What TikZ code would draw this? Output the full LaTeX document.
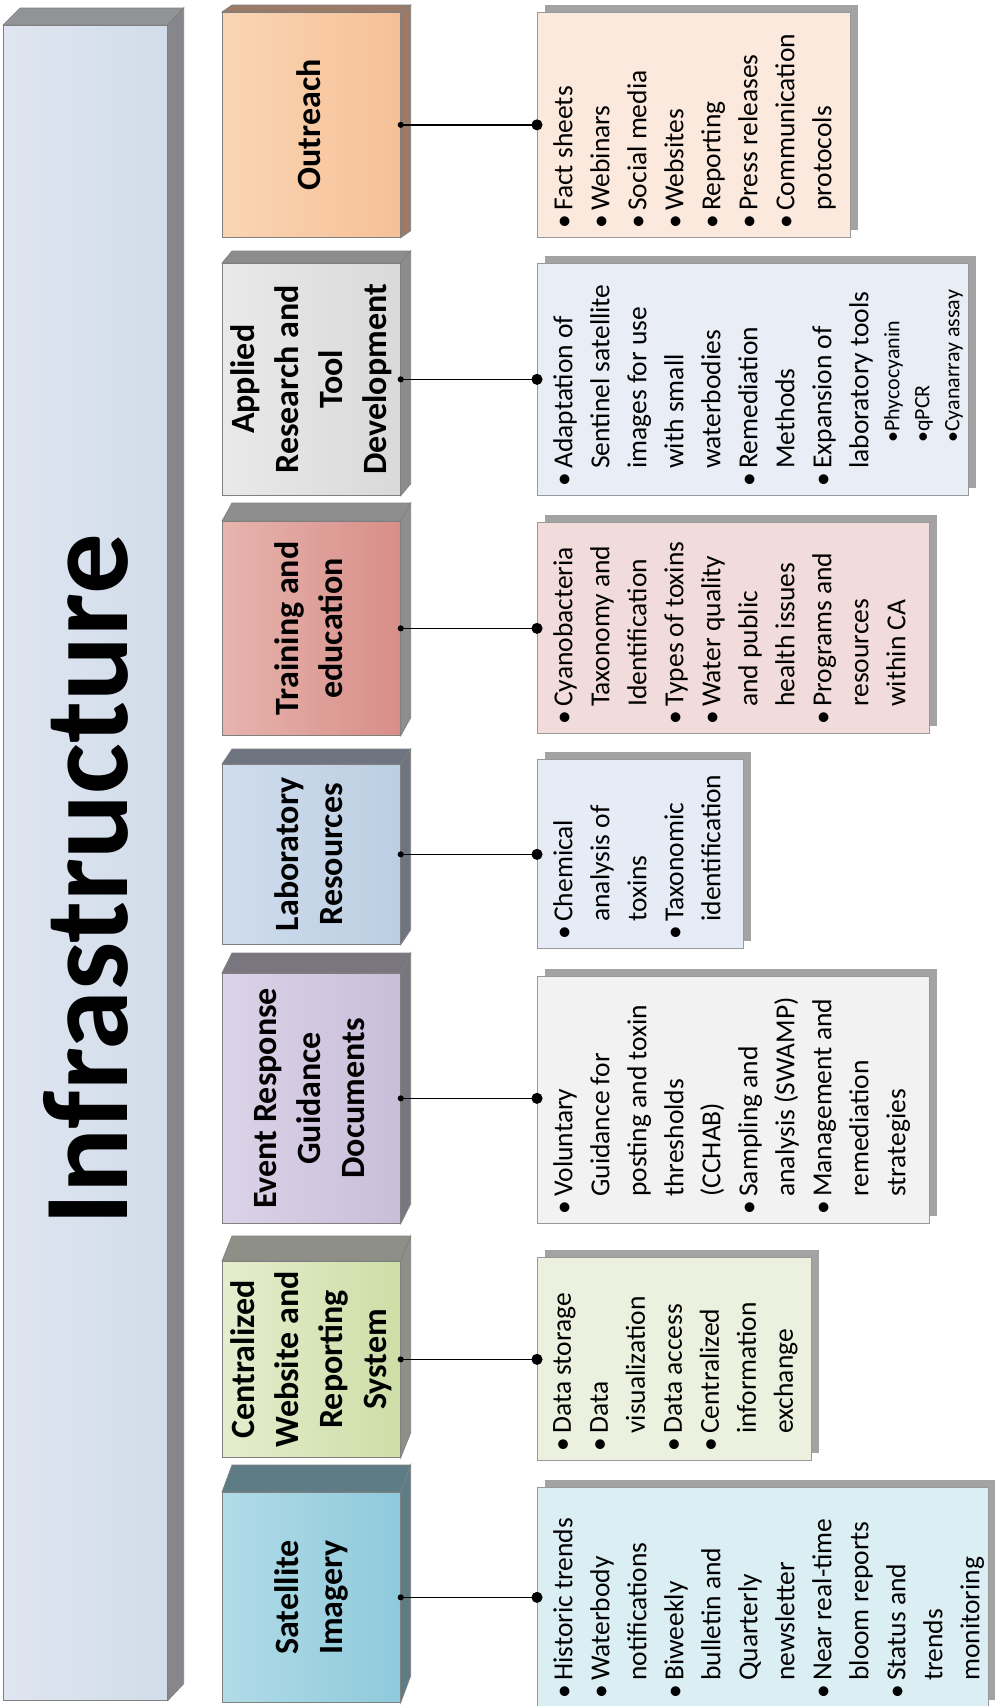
\documentclass[tikz,border=0pt]{standalone}
\usepackage{fontspec}
\setmainfont{Carlito}
\usetikzlibrary{arrows.meta,shadows}

\definecolor{infraL}{RGB}{223,229,241}
\definecolor{infraR}{RGB}{209,221,234}
\definecolor{infraS}{RGB}{133,135,139}
\definecolor{outL}{RGB}{250,213,180}
\definecolor{outR}{RGB}{246,192,150}
\definecolor{outS}{RGB}{155,123,102}
\definecolor{appL}{RGB}{233,233,233}
\definecolor{appR}{RGB}{217,217,217}
\definecolor{appS}{RGB}{140,140,140}
\definecolor{trnL}{RGB}{231,180,174}
\definecolor{trnR}{RGB}{216,142,136}
\definecolor{trnS}{RGB}{142,142,142}
\definecolor{labL}{RGB}{207,221,237}
\definecolor{labR}{RGB}{188,206,226}
\definecolor{labS}{RGB}{110,117,128}
\definecolor{evtL}{RGB}{219,211,231}
\definecolor{evtR}{RGB}{201,190,218}
\definecolor{evtS}{RGB}{122,118,128}
\definecolor{cenL}{RGB}{229,237,206}
\definecolor{cenR}{RGB}{205,222,166}
\definecolor{cenS}{RGB}{142,144,136}
\definecolor{satL}{RGB}{177,219,231}
\definecolor{satR}{RGB}{142,202,220}
\definecolor{satS}{RGB}{94,124,134}
\definecolor{outF}{RGB}{252,233,222}
\definecolor{appF}{RGB}{233,237,245}
\definecolor{trnF}{RGB}{242,220,219}
\definecolor{labF}{RGB}{230,236,245}
\definecolor{evtF}{RGB}{242,242,242}
\definecolor{cenF}{RGB}{235,241,222}
\definecolor{satF}{RGB}{218,238,243}
\definecolor{shadowgray}{RGB}{163,163,163}
\definecolor{edgegray}{RGB}{128,128,128}

\newcommand{\bul}{\makebox[18pt][l]{•}}
\newcommand{\cnt}{\hspace*{18pt}}
\newcommand{\sbul}[1]{\hspace*{44pt}{\fontsize{22}{30}\selectfont •#1}}

\tikzset{
  catface/.style={draw=edgegray, line width=0.7pt, minimum width=178, inner sep=0pt,
    font=\fontsize{34}{44}\selectfont\bfseries},
  sideface/.style={draw=edgegray, line width=0.7pt},
  infobox/.style={draw=black!40, fill=#1, line width=0.9pt, inner sep=0pt, anchor=north west,
    drop shadow={shadow xshift=8pt, shadow yshift=7pt, fill=shadowgray, opacity=1}},
  infotext/.style={rotate=90, anchor=north west, align=left, inner sep=0pt,
    font=\fontsize{27.5}{37}\selectfont},
  link/.style={line width=1.3pt, {Circle[length=6pt]}-{Circle[length=11pt]},
    shorten <=-3pt, shorten >=-5.5pt}
}

% name, top, bottom, depth, left colour, right colour, side colour, title
\newcommand{\catbox}[8]{%
  \node[catface, left color=#5, right color=#6, minimum height={#3-#2}, anchor=north west] (#1) at (222,#2)
    {\rotatebox{90}{\begin{tabular}{@{}c@{}}#8\end{tabular}}};
  \filldraw[sideface, fill=#7] (#1.north west) -- ([shift={(10,-#4)}]#1.north west)
    -- ([shift={(10,-#4)}]#1.north east) -- (#1.north east) -- cycle;
  \filldraw[sideface, fill=#7] (#1.north east) -- ([shift={(10,-#4)}]#1.north east)
    -- ([shift={(10,-#4)}]#1.south east) -- (#1.south east) -- cycle;
}

\begin{document}
\begin{tikzpicture}[x=1pt,y=-1pt]
\useasboundingbox (0,0) rectangle (995,1706);
\clip (0,0) rectangle (995,1706);

% big box
\node[catface, minimum width=164, minimum height=1675, left color=infraL, right color=infraR,
  anchor=north west] (infra) at (3,25) {};
\filldraw[sideface, fill=infraS!90!white] (infra.north west) -- ([shift={(17,-17)}]infra.north west)
  -- ([shift={(16,-17)}]infra.north east) -- (infra.north east) -- cycle;
\filldraw[sideface, fill=infraS] (infra.north east) -- ([shift={(16,-17)}]infra.north east)
  -- ([shift={(16,-17)}]infra.south east) -- (infra.south east) -- cycle;
\node[rotate=90, anchor=base, inner sep=0pt, font=\fontsize{121}{126}\selectfont\bfseries] (infratitle)
  at (127,880) {Infrastructure};

% categories
\catbox{out}{12}{237}{7}{outL}{outR}{outS}{Outreach}
\catbox{app}{263}{495}{12}{appL}{appR}{appS}{Applied\\Research and\\Tool\\Development}
\catbox{trn}{521}{735}{18}{trnL}{trnR}{trnS}{Training and\\education}
\catbox{lab}{764}{944}{15}{labL}{labR}{labS}{Laboratory\\Resources}
\catbox{evt}{973}{1223}{20}{evtL}{evtR}{evtS}{Event Response\\Guidance\\Documents}
\catbox{cen}{1261}{1457}{25}{cenL}{cenR}{cenS}{Centralized\\Website and\\Reporting\\System}
\catbox{sat}{1492}{1702}{27}{satL}{satR}{satS}{Satellite\\Imagery}

% detail boxes
\node[infobox=outF, minimum width=313, minimum height=225] (outinfo) at (537,12) {};
\node[infobox=appF, minimum width=431, minimum height=232] (appinfo) at (537,263) {};
\node[infobox=trnF, minimum width=392, minimum height=211] (trninfo) at (537,522) {};
\node[infobox=labF, minimum width=206, minimum height=189] (labinfo) at (537,759) {};
\node[infobox=evtF, minimum width=392, minimum height=247] (evtinfo) at (537,976) {};
\node[infobox=cenF, minimum width=274, minimum height=203] (ceninfo) at (537,1257) {};
\node[infobox=satF, minimum width=451, minimum height=220] (satinfo) at (537,1487) {};

\node[infotext] (outlist) at ([shift={(16,-9)}]outinfo.south west)
  {\bul Fact sheets\\ \bul Webinars\\ \bul Social media\\ \bul Websites\\ \bul Reporting\\
   \bul Press releases\\ \bul Communication\\ \cnt protocols};
\node[infotext] (applist) at ([shift={(16,-9)}]appinfo.south west)
  {\bul Adaptation of\\ \cnt Sentinel satellite\\ \cnt images for use\\ \cnt with small\\
   \cnt waterbodies\\ \bul Remediation\\ \cnt Methods\\ \bul Expansion of\\ \cnt laboratory tools\\[-6pt]
   \sbul{Phycocyanin}\\[-7pt] \sbul{qPCR}\\[-7pt] \sbul{Cyanarray assay}};
\node[infotext] (trnlist) at ([shift={(16,-9)}]trninfo.south west)
  {\bul Cyanobacteria\\ \cnt Taxonomy and\\ \cnt Identification\\ \bul Types of toxins\\
   \bul Water quality\\ \cnt and public\\ \cnt health issues\\ \bul Programs and\\ \cnt resources\\ \cnt within CA};
\node[infotext] (lablist) at ([shift={(16,-9)}]labinfo.south west)
  {\bul Chemical\\ \cnt analysis of\\ \cnt toxins\\ \bul Taxonomic\\ \cnt identification};
\node[infotext] (evtlist) at ([shift={(16,-9)}]evtinfo.south west)
  {\bul Voluntary\\ \cnt Guidance for\\ \cnt posting and toxin\\ \cnt thresholds\\ \cnt (CCHAB)\\
   \bul Sampling and\\ \cnt analysis (SWAMP)\\ \bul Management and\\ \cnt remediation\\ \cnt strategies};
\node[infotext] (cenlist) at ([shift={(16,-9)}]ceninfo.south west)
  {\bul Data storage\\ \bul Data\\ \cnt visualization\\ \bul Data access\\ \bul Centralized\\
   \cnt information\\ \cnt exchange};
\node[infotext] (satlist) at ([shift={(16,-9)}]satinfo.south west)
  {\bul Historic trends\\ \bul Waterbody\\ \cnt notifications\\ \bul Biweekly\\ \cnt bulletin and\\
   \cnt Quarterly\\ \cnt newsletter\\ \bul Near real-time\\ \cnt bloom reports\\ \bul Status and\\
   \cnt trends\\ \cnt monitoring};

% connectors
\foreach \c in {out,app,trn,lab,evt,cen,sat}
  \draw[link] (\c.east) -- (\c.east -| \c info.west);
\end{tikzpicture}
\end{document}
